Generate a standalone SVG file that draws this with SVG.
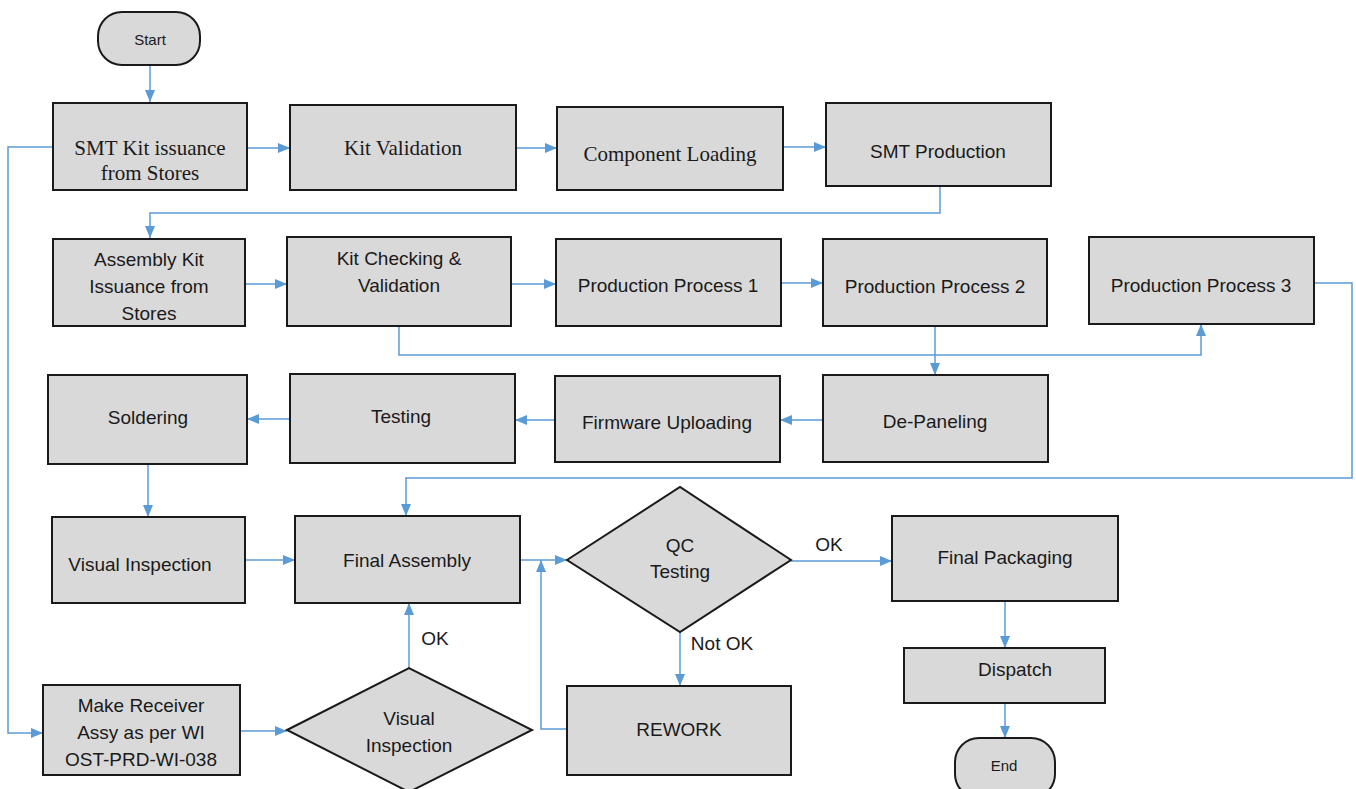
<svg xmlns="http://www.w3.org/2000/svg" width="1356" height="789" viewBox="0 0 1356 789">
<style>
.box{fill:#d9d9d9;stroke:#1a1a1a;stroke-width:2}
.t{font-family:"Liberation Sans",Arial,sans-serif;font-size:19px;fill:#1a1a1a;text-anchor:middle}
.s{font-family:"Liberation Serif","Times New Roman",serif;font-size:21px;fill:#1a1a1a;text-anchor:middle}
.sm{font-family:"Liberation Sans",Arial,sans-serif;font-size:15px;fill:#1a1a1a;text-anchor:middle}
.c{fill:none;stroke:#5b9bd5;stroke-width:1.5;marker-end:url(#ah)}
.l{fill:none;stroke:#5b9bd5;stroke-width:1.5}
</style>
<defs>
<marker id="ah" markerUnits="userSpaceOnUse" markerWidth="12" markerHeight="12" viewBox="0 0 12 12" refX="12" refY="6" orient="auto">
<path d="M0,1 L12,6 L0,11 Z" fill="#5b9bd5"/>
</marker>
</defs>
<rect width="1356" height="789" fill="#ffffff"/>

<g id="connectors">
<path class="c" d="M150,65 V102"/>
<path class="c" d="M247,148 H290"/>
<path class="c" d="M516,148 H557"/>
<path class="c" d="M783,147 H826"/>
<path class="c" d="M940,186 V213 H150 V238"/>
<path class="c" d="M245,284 H287"/>
<path class="c" d="M511,284 H556"/>
<path class="c" d="M781,283 H823"/>
<path class="c" d="M399,326 V355 H1201 V324"/>
<path class="c" d="M935,326 V375"/>
<path class="c" d="M1314,283 H1352 V478 H406 V516"/>
<path class="c" d="M823,420 H780"/>
<path class="c" d="M555,420 H515"/>
<path class="c" d="M290,419 H247"/>
<path class="c" d="M148,464 V517"/>
<path class="c" d="M245,560 H295"/>
<path class="c" d="M520,560 H567"/>
<path class="c" d="M567,729 H541 V560"/>
<path class="c" d="M791,561 H892"/>
<path class="c" d="M680,632 V686"/>
<path class="c" d="M1005,601 V648"/>
<path class="c" d="M1005,703 V738"/>
<path class="c" d="M53,147 H8 V733 H43"/>
<path class="c" d="M240,731 H287"/>
<path class="c" d="M409,668 V603"/>
<text class="t" x="829" y="551">OK</text>
<text class="t" x="722" y="650">Not OK</text>
<text class="t" x="435" y="645">OK</text>
</g>

<g id="start"><rect class="box" x="98" y="12" width="102" height="53" rx="24" ry="24"/><text class="sm" x="150" y="45">Start</text></g>
<g id="smt-kit"><rect class="box" x="53" y="103" width="194" height="87"/><text class="s" x="150" y="155">SMT Kit issuance</text><text class="s" x="150" y="180">from Stores</text></g>
<g id="kit-validation"><rect class="box" x="290" y="105" width="226" height="85"/><text class="s" x="403" y="155">Kit Validation</text></g>
<g id="component-loading"><rect class="box" x="557" y="107" width="226" height="83"/><text class="s" x="670" y="161">Component Loading</text></g>
<g id="smt-production"><rect class="box" x="826" y="103" width="225" height="83"/><text class="t" x="938" y="158">SMT Production</text></g>

<g id="assembly-kit"><rect class="box" x="53" y="239" width="192" height="87"/><text class="t" x="149" y="266">Assembly Kit</text><text class="t" x="149" y="293">Issuance from</text><text class="t" x="149" y="320">Stores</text></g>
<g id="kit-checking"><rect class="box" x="287" y="237" width="224" height="89"/><text class="t" x="399" y="265">Kit Checking &amp;</text><text class="t" x="399" y="292">Validation</text></g>
<g id="pp1"><rect class="box" x="556" y="239" width="225" height="87"/><text class="t" x="668" y="292">Production Process 1</text></g>
<g id="pp2"><rect class="box" x="823" y="239" width="224" height="87"/><text class="t" x="935" y="293">Production Process 2</text></g>
<g id="pp3"><rect class="box" x="1089" y="237" width="225" height="87"/><text class="t" x="1201" y="292">Production Process 3</text></g>

<g id="soldering"><rect class="box" x="48" y="375" width="199" height="89"/><text class="t" x="148" y="424">Soldering</text></g>
<g id="testing"><rect class="box" x="290" y="374" width="225" height="89"/><text class="t" x="401" y="423">Testing</text></g>
<g id="firmware"><rect class="box" x="555" y="376" width="225" height="86"/><text class="t" x="667" y="429">Firmware Uploading</text></g>
<g id="depaneling"><rect class="box" x="823" y="375" width="225" height="87"/><text class="t" x="935" y="428">De-Paneling</text></g>

<g id="visual-inspection-box"><rect class="box" x="52" y="517" width="193" height="86"/><text class="t" x="140" y="571">Visual Inspection</text></g>
<g id="final-assembly"><rect class="box" x="295" y="516" width="225" height="87"/><text class="t" x="407" y="567">Final Assembly</text></g>
<g id="qc-testing"><polygon class="box" points="567,560 680,487 791,560 680,632"/><text class="t" x="680" y="552">QC</text><text class="t" x="680" y="578">Testing</text></g>
<g id="final-packaging"><rect class="box" x="892" y="516" width="226" height="85"/><text class="t" x="1005" y="564">Final Packaging</text></g>
<g id="dispatch"><rect class="box" x="904" y="648" width="201" height="55"/><text class="t" x="1015" y="676">Dispatch</text></g>
<g id="end"><rect class="box" x="955" y="738" width="100" height="60" rx="24" ry="24"/><text class="sm" x="1004" y="771">End</text></g>

<g id="make-receiver"><rect class="box" x="43" y="685" width="197" height="90"/><text class="t" x="141" y="712">Make Receiver</text><text class="t" x="141" y="739">Assy as per WI</text><text class="t" x="141" y="766">OST-PRD-WI-038</text></g>
<g id="visual-inspection-decision"><polygon class="box" points="287,730 409,668 532,730 409,792"/><text class="t" x="409" y="725">Visual</text><text class="t" x="409" y="752">Inspection</text></g>
<g id="rework"><rect class="box" x="567" y="686" width="224" height="89"/><text class="t" x="679" y="736">REWORK</text></g>
</svg>
